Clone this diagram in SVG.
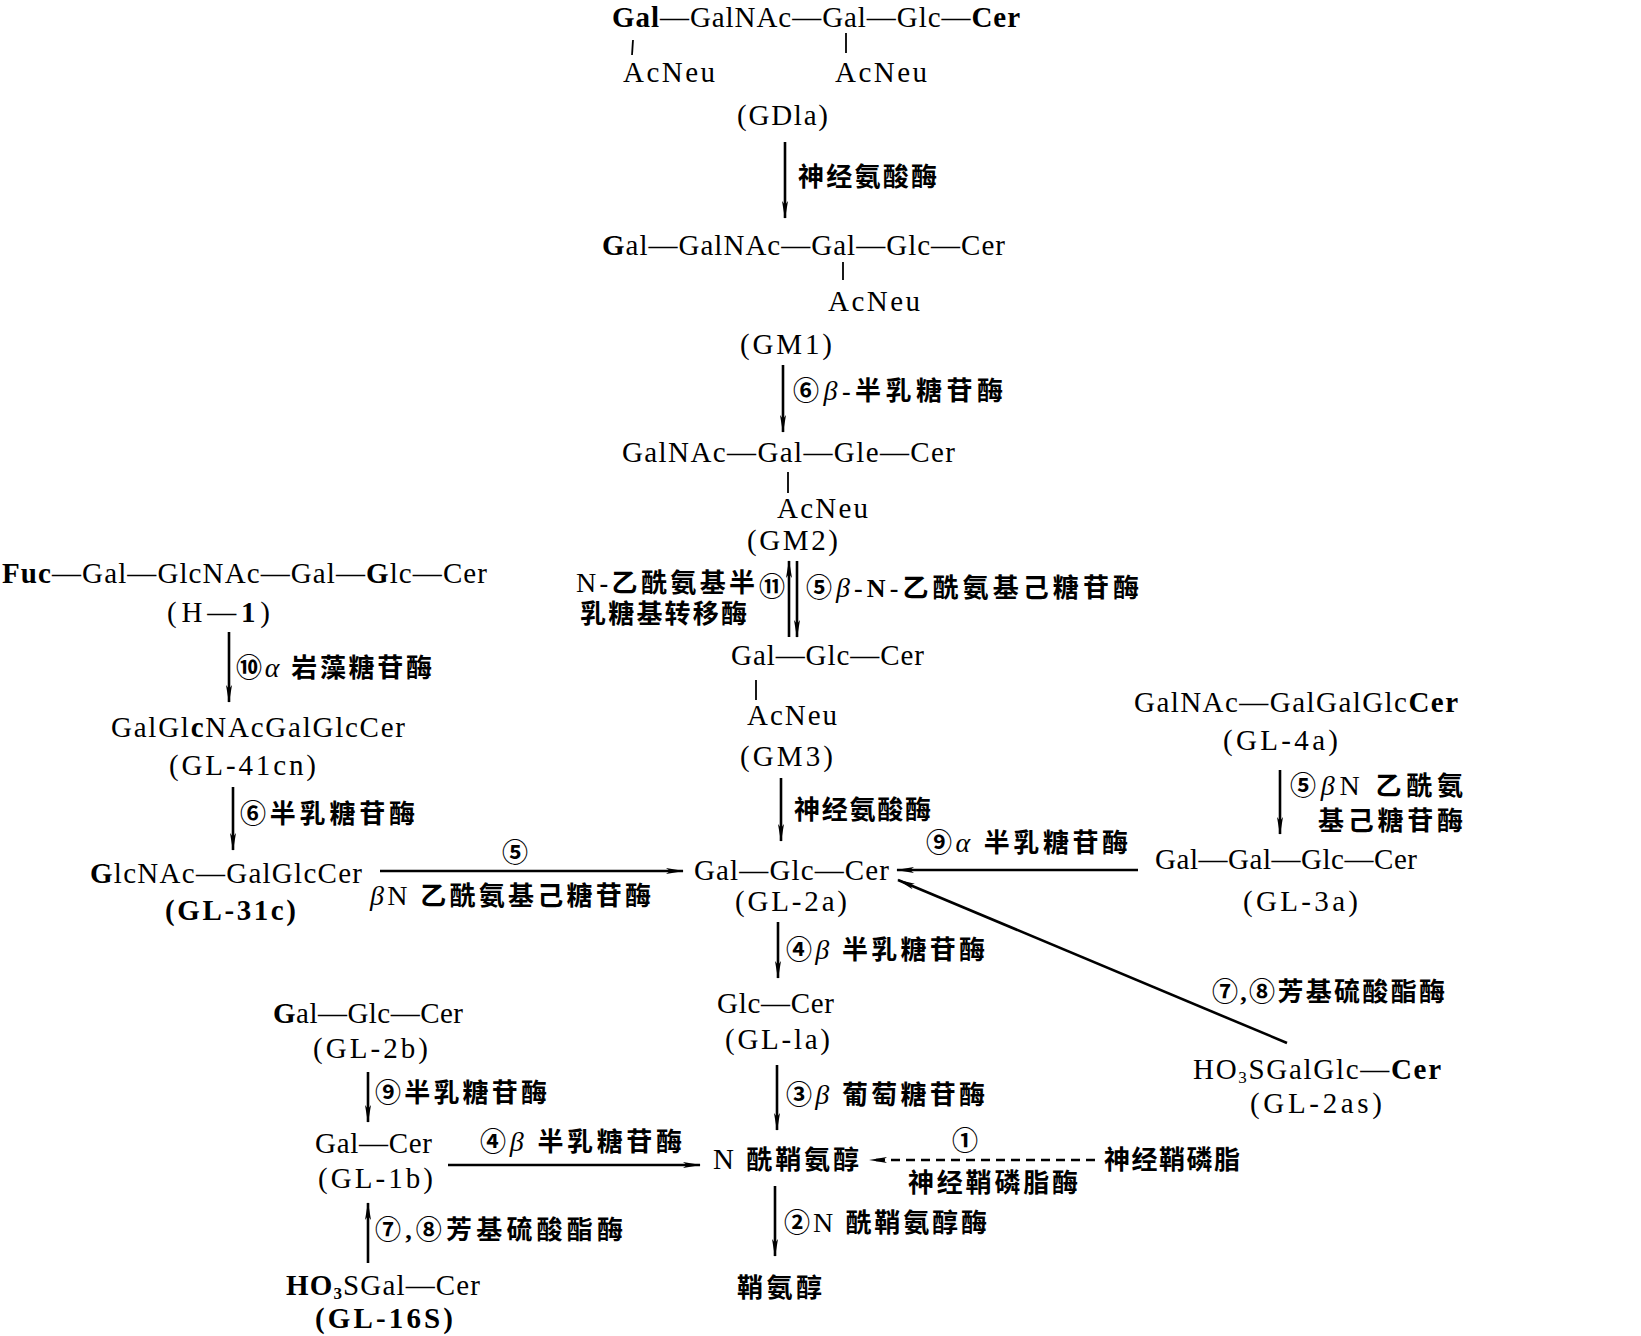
<svg xmlns="http://www.w3.org/2000/svg" width="1641" height="1336" viewBox="0 0 1641 1336">
<defs>
<style>
.t{font-family:"Liberation Serif","Noto Sans CJK SC",serif;font-size:29px;fill:#000}
.b{font-weight:700}
.lb{font-family:"Liberation Serif","Noto Sans CJK SC",sans-serif;font-size:26px;font-weight:700;fill:#000}
.gr{font-family:"Liberation Serif",serif;font-style:italic;font-weight:400;font-size:28px}
.tk{stroke:#000;stroke-width:1.8;fill:none}
.ar{stroke:#000;stroke-width:2.6;fill:none;marker-end:url(#ah)}
.ds{stroke:#000;stroke-width:2.4;fill:none;stroke-dasharray:9 6;marker-end:url(#ah)}
</style>
<marker id="ah" viewBox="0 0 18 8" refX="17" refY="4" markerWidth="18" markerHeight="8" markerUnits="userSpaceOnUse" orient="auto"><path d="M0,1 L18,4 L0,7 L4,4 z" fill="#000"/></marker>
</defs>
<rect width="1641" height="1336" fill="#fff"/>

<g id="n-gd1a">
<text class="t" x="612" y="27" textLength="408" lengthAdjust="spacing"><tspan class="b">Gal</tspan>—GalNAc—Gal—Glc—<tspan class="b">Cer</tspan></text>
<line class="tk" x1="633" y1="40" x2="632" y2="55"/>
<line class="tk" x1="846" y1="33" x2="846" y2="53"/>
<text class="t" x="623" y="82" textLength="92" lengthAdjust="spacing">AcNeu</text>
<text class="t" x="835" y="82" textLength="92" lengthAdjust="spacing">AcNeu</text>
<text class="t" x="737" y="125" textLength="91" lengthAdjust="spacing">(GDla)</text>
</g>

<g id="n-gm1">
<text class="t" x="602" y="255" textLength="403" lengthAdjust="spacing"><tspan class="b">G</tspan>al—GalNAc—Gal—Glc—Cer</text>
<line class="tk" x1="843" y1="262" x2="843" y2="280"/>
<text class="t" x="828" y="311" textLength="92" lengthAdjust="spacing">AcNeu</text>
<text class="t" x="740" y="354" textLength="92" lengthAdjust="spacing">(GM1)</text>
</g>

<g id="n-gm2">
<text class="t" x="622" y="462" textLength="333" lengthAdjust="spacing">GalNAc—Gal—Gle—Cer</text>
<line class="tk" x1="788" y1="472" x2="788" y2="493"/>
<text class="t" x="777" y="518" textLength="91" lengthAdjust="spacing">AcNeu</text>
<text class="t" x="747" y="550" textLength="91" lengthAdjust="spacing">(GM2)</text>
</g>

<g id="n-gm3">
<text class="t" x="731" y="665" textLength="193" lengthAdjust="spacing">Gal—Glc—Cer</text>
<line class="tk" x1="756" y1="680" x2="756" y2="700"/>
<text class="t" x="747" y="725" textLength="90" lengthAdjust="spacing">AcNeu</text>
<text class="t" x="740" y="766" textLength="93" lengthAdjust="spacing">(GM3)</text>
</g>

<g id="n-gl2a">
<text class="t" x="694" y="880" textLength="195" lengthAdjust="spacing">Gal—Glc—Cer</text>
<text class="t" x="735" y="911" textLength="112" lengthAdjust="spacing">(GL-2a)</text>
</g>

<g id="n-gl1a">
<text class="t" x="717" y="1013" textLength="117" lengthAdjust="spacing">Glc—Cer</text>
<text class="t" x="725" y="1049" textLength="105" lengthAdjust="spacing">(GL-la)</text>
</g>

<g id="n-cer">
<text class="lb" x="713" y="1169" textLength="146" lengthAdjust="spacing"><tspan font-weight="400" font-size="29">N</tspan> 酰鞘氨醇</text>
</g>

<g id="n-sph">
<text class="lb" x="737" y="1297" textLength="85" lengthAdjust="spacing">鞘氨醇</text>
</g>

<g id="n-sm">
<text class="lb" x="1104" y="1169" textLength="136" lengthAdjust="spacing">神经鞘磷脂</text>
</g>

<g id="n-h1">
<text class="t" x="2" y="583" textLength="485" lengthAdjust="spacing"><tspan class="b">Fuc</tspan>—Gal—GlcNAc—Gal—<tspan class="b">G</tspan>lc—Cer</text>
<text class="t" x="167" y="622" textLength="103" lengthAdjust="spacing">(H—<tspan class="b">1</tspan>)</text>
</g>

<g id="n-gl41cn">
<text class="t" x="111" y="737" textLength="294" lengthAdjust="spacing">GalGl<tspan class="b">c</tspan>NAcGalGlcCer</text>
<text class="t" x="169" y="775" textLength="147" lengthAdjust="spacing">(GL-41cn)</text>
</g>

<g id="n-gl31c">
<text class="t" x="90" y="883" textLength="272" lengthAdjust="spacing"><tspan class="b">G</tspan>lcNAc—GalGlcCer</text>
<text class="t b" x="165" y="920" textLength="131" lengthAdjust="spacing">(GL-31c)</text>
</g>

<g id="n-gl4a">
<text class="t" x="1134" y="712" textLength="324" lengthAdjust="spacing">GalNAc—GalGalGlc<tspan class="b">Cer</tspan></text>
<text class="t" x="1223" y="750" textLength="115" lengthAdjust="spacing">(GL-4a)</text>
</g>

<g id="n-gl3a">
<text class="t" x="1155" y="869" textLength="262" lengthAdjust="spacing">Gal—Gal—Glc—Cer</text>
<text class="t" x="1243" y="911" textLength="115" lengthAdjust="spacing">(GL-3a)</text>
</g>

<g id="n-gl2as">
<text class="t" x="1193" y="1079" textLength="248" lengthAdjust="spacing">HO<tspan font-size="17" dy="4">3</tspan><tspan dy="-4">SGalGlc—</tspan><tspan class="b">Cer</tspan></text>
<text class="t" x="1250" y="1113" textLength="132" lengthAdjust="spacing">(GL-2as)</text>
</g>

<g id="n-gl2b">
<text class="t" x="273" y="1023" textLength="190" lengthAdjust="spacing"><tspan class="b">G</tspan>al—Glc—Cer</text>
<text class="t" x="313" y="1058" textLength="115" lengthAdjust="spacing">(GL-2b)</text>
</g>

<g id="n-gl1b">
<text class="t" x="315" y="1153" textLength="117" lengthAdjust="spacing">Gal—Cer</text>
<text class="t" x="318" y="1188" textLength="115" lengthAdjust="spacing">(GL-1b)</text>
</g>

<g id="n-gl16s">
<text class="t b" x="286" y="1295" textLength="194" lengthAdjust="spacing">HO<tspan font-size="17" dy="4">3</tspan><tspan dy="-4" font-weight="400">SGal—Cer</tspan></text>
<text class="t b" x="315" y="1328" textLength="138" lengthAdjust="spacing">(GL-16S)</text>
</g>

<g id="connectors">
<line class="ar" x1="785" y1="142" x2="785" y2="218"/>
<line class="ar" x1="783" y1="365" x2="783" y2="432"/>
<line class="ar" x1="789" y1="637" x2="789" y2="561"/>
<line class="ar" x1="797" y1="561" x2="797" y2="637"/>
<line class="ar" x1="781" y1="778" x2="781" y2="841"/>
<line class="ar" x1="778" y1="922" x2="778" y2="978"/>
<line class="ar" x1="777" y1="1065" x2="777" y2="1130"/>
<line class="ar" x1="775" y1="1186" x2="775" y2="1256"/>
<line class="ar" x1="229" y1="632" x2="229" y2="702"/>
<line class="ar" x1="233" y1="787" x2="233" y2="850"/>
<line class="ar" x1="368" y1="1072" x2="368" y2="1122"/>
<line class="ar" x1="368" y1="1263" x2="368" y2="1203"/>
<line class="ar" x1="1280" y1="770" x2="1280" y2="834"/>
<line class="ar" x1="380" y1="871" x2="683" y2="871"/>
<line class="ar" x1="1138" y1="870" x2="897" y2="870"/>
<line class="ar" x1="448" y1="1165" x2="700" y2="1165"/>
<line class="ds" x1="1095" y1="1160" x2="870" y2="1160"/>
<line class="ar" x1="1287" y1="1043" x2="898" y2="880"/>

<text class="lb" x="798" y="186" textLength="139" lengthAdjust="spacing">神经氨酸酶</text>
<text class="lb" x="793" y="400" textLength="210" lengthAdjust="spacing">⑥<tspan class="gr">β</tspan>-半乳糖苷酶</text>
<text class="lb" x="576" y="592" textLength="179" lengthAdjust="spacing"><tspan font-weight="400" font-size="28">N</tspan>-乙酰氨基半</text>
<text class="lb" x="580" y="623" textLength="167" lengthAdjust="spacing">乳糖基转移酶</text>
<text class="lb" x="772" y="596" text-anchor="middle">⑪</text>
<text class="lb" x="806" y="597" textLength="333" lengthAdjust="spacing">⑤<tspan class="gr">β</tspan>-N-乙酰氨基己糖苷酶</text>
<text class="lb" x="794" y="819" textLength="137" lengthAdjust="spacing">神经氨酸酶</text>
<text class="lb" x="926" y="852" textLength="202" lengthAdjust="spacing">⑨<tspan class="gr">α</tspan> 半乳糖苷酶</text>
<text class="lb" x="1290" y="795" textLength="173" lengthAdjust="spacing">⑤<tspan class="gr">β</tspan><tspan font-weight="400" font-size="28">N</tspan> 乙酰氨</text>
<text class="lb" x="1318" y="830" textLength="145" lengthAdjust="spacing">基己糖苷酶</text>
<text class="lb" x="1212" y="1001" textLength="233" lengthAdjust="spacing">⑦,⑧芳基硫酸酯酶</text>
<text class="lb" x="515" y="862" text-anchor="middle">⑤</text>
<text class="lb" x="370" y="905" textLength="281" lengthAdjust="spacing"><tspan class="gr">β</tspan><tspan font-weight="400" font-size="28">N</tspan> 乙酰氨基己糖苷酶</text>
<text class="lb" x="786" y="959" textLength="199" lengthAdjust="spacing">④<tspan class="gr">β</tspan> 半乳糖苷酶</text>
<text class="lb" x="786" y="1104" textLength="199" lengthAdjust="spacing">③<tspan class="gr">β</tspan> 葡萄糖苷酶</text>
<text class="lb" x="784" y="1232" textLength="203" lengthAdjust="spacing">②<tspan font-weight="400" font-size="28">N</tspan> 酰鞘氨醇酶</text>
<text class="lb" x="965" y="1150" text-anchor="middle">①</text>
<text class="lb" x="908" y="1192" textLength="170" lengthAdjust="spacing">神经鞘磷脂酶</text>
<text class="lb" x="236" y="677" textLength="196" lengthAdjust="spacing">⑩<tspan class="gr">α</tspan> 岩藻糖苷酶</text>
<text class="lb" x="240" y="823" textLength="175" lengthAdjust="spacing">⑥半乳糖苷酶</text>
<text class="lb" x="375" y="1102" textLength="172" lengthAdjust="spacing">⑨半乳糖苷酶</text>
<text class="lb" x="480" y="1151" textLength="202" lengthAdjust="spacing">④<tspan class="gr">β</tspan> 半乳糖苷酶</text>
<text class="lb" x="375" y="1239" textLength="248" lengthAdjust="spacing">⑦,⑧芳基硫酸酯酶</text>
</g>
</svg>
